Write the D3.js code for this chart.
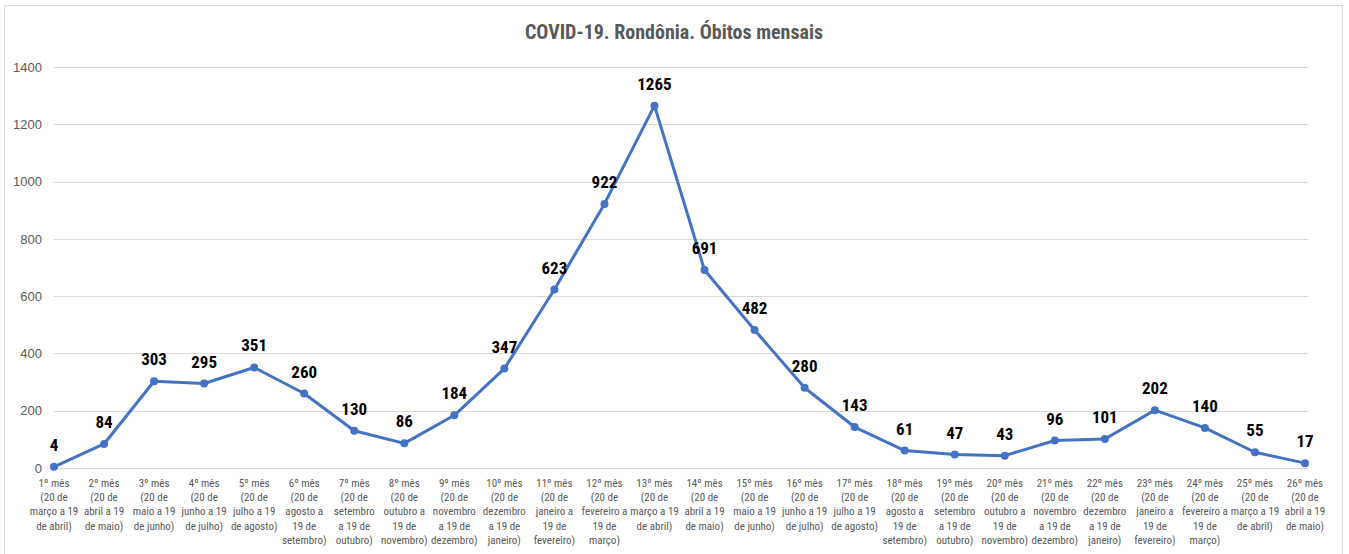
<!DOCTYPE html>
<html><head><meta charset="utf-8">
<script src="https://cdn.jsdelivr.net/npm/d3@7"></script>
<style>
body{margin:0;background:#fff;}
svg{display:block;font-family:"Liberation Sans Narrow","Roboto Condensed","DejaVu Sans Condensed",Arial,sans-serif;}
</style></head><body>
<svg id="c" width="1349" height="554"></svg>
<script>
const title = "COVID-19. Rondônia. Óbitos mensais";
const values = [4,84,303,295,351,260,130,86,184,347,623,922,1265,691,482,280,143,61,47,43,96,101,202,140,55,17];
const categories = [
 ["1º mês","(20 de","março a 19","de abril)"],
 ["2º mês","(20 de","abril a 19","de maio)"],
 ["3º mês","(20 de","maio a 19","de junho)"],
 ["4º mês","(20 de","junho a 19","de julho)"],
 ["5º mês","(20 de","julho a 19","de agosto)"],
 ["6º mês","(20 de","agosto a","19 de","setembro)"],
 ["7º mês","(20 de","setembro","a 19 de","outubro)"],
 ["8º mês","(20 de","outubro a","19 de","novembro)"],
 ["9º mês","(20 de","novembro","a 19 de","dezembro)"],
 ["10º mês","(20 de","dezembro","a 19 de","janeiro)"],
 ["11º mês","(20 de","janeiro a","19 de","fevereiro)"],
 ["12º mês","(20 de","fevereiro a","19 de","março)"],
 ["13º mês","(20 de","março a 19","de abril)"],
 ["14º mês","(20 de","abril a 19","de maio)"],
 ["15º mês","(20 de","maio a 19","de junho)"],
 ["16º mês","(20 de","junho a 19","de julho)"],
 ["17º mês","(20 de","julho a 19","de agosto)"],
 ["18º mês","(20 de","agosto a","19 de","setembro)"],
 ["19º mês","(20 de","setembro","a 19 de","outubro)"],
 ["20º mês","(20 de","outubro a","19 de","novembro)"],
 ["21º mês","(20 de","novembro","a 19 de","dezembro)"],
 ["22º mês","(20 de","dezembro","a 19 de","janeiro)"],
 ["23º mês","(20 de","janeiro a","19 de","fevereiro)"],
 ["24º mês","(20 de","fevereiro a","19 de","março)"],
 ["25º mês","(20 de","março a 19","de abril)"],
 ["26º mês","(20 de","abril a 19","de maio)"]
];
const yTicks = [0,200,400,600,800,1000,1200,1400];

const svg = d3.select("#c");
svg.append("rect").attr("x",4.5).attr("y",5.5).attr("width",1338).attr("height",560)
  .attr("fill","#fff").attr("stroke","#d9d9d9").attr("stroke-width",1);

const x = d3.scalePoint().domain(d3.range(values.length)).range([54,1305]);
const y = d3.scaleLinear().domain([0,1400]).range([468,67]);

// gridlines
svg.append("g").selectAll("line").data(yTicks).join("line")
  .attr("x1",54).attr("x2",1308)
  .attr("y1",d=>Math.round(y(d))+0.5).attr("y2",d=>Math.round(y(d))+0.5)
  .attr("stroke","#d9d9d9").attr("stroke-width",1);

// y axis labels
const yAxis = d3.axisLeft(y).tickValues(yTicks).tickFormat(d3.format("d")).tickSize(0).tickPadding(0);
const ga = svg.append("g").attr("transform","translate(42,0)").call(yAxis);
ga.select(".domain").remove();
ga.selectAll("text").attr("fill","#595959").style("font-size","13px")
  .style("font-family","'Liberation Sans Narrow',Arial,sans-serif");

// x labels
const xl = svg.append("g").selectAll("text").data(categories).join("text")
  .attr("text-anchor","middle").attr("fill","#595959").style("font-size","11px")
  .attr("transform",(d,i)=>`translate(${x(i)},487)`);
xl.selectAll("tspan").data(d=>d).join("tspan")
  .attr("x",0).attr("y",(d,j)=>j*14.2).text(d=>d);

// line
svg.append("path").datum(values)
  .attr("d", d3.line().x((d,i)=>x(i)).y(d=>y(d)))
  .attr("fill","none").attr("stroke","#4472C4").attr("stroke-width",3).attr("stroke-linejoin","round");

svg.append("g").selectAll("circle").data(values).join("circle")
  .attr("cx",(d,i)=>x(i)).attr("cy",d=>y(d)).attr("r",4).attr("fill","#4472C4");

// data labels
svg.append("g").selectAll("text").data(values).join("text")
  .attr("x",(d,i)=>x(i)).attr("y",d=>y(d)-16)
  .attr("text-anchor","middle").attr("fill","#000").style("font-size","17px").style("font-weight","bold")
  .text(d=>d);

// title
svg.append("text").attr("x",674).attr("y",39).attr("text-anchor","middle")
  .attr("fill","#595959").style("font-size","20px").style("font-weight","bold").text(title);
</script>
</body></html>
